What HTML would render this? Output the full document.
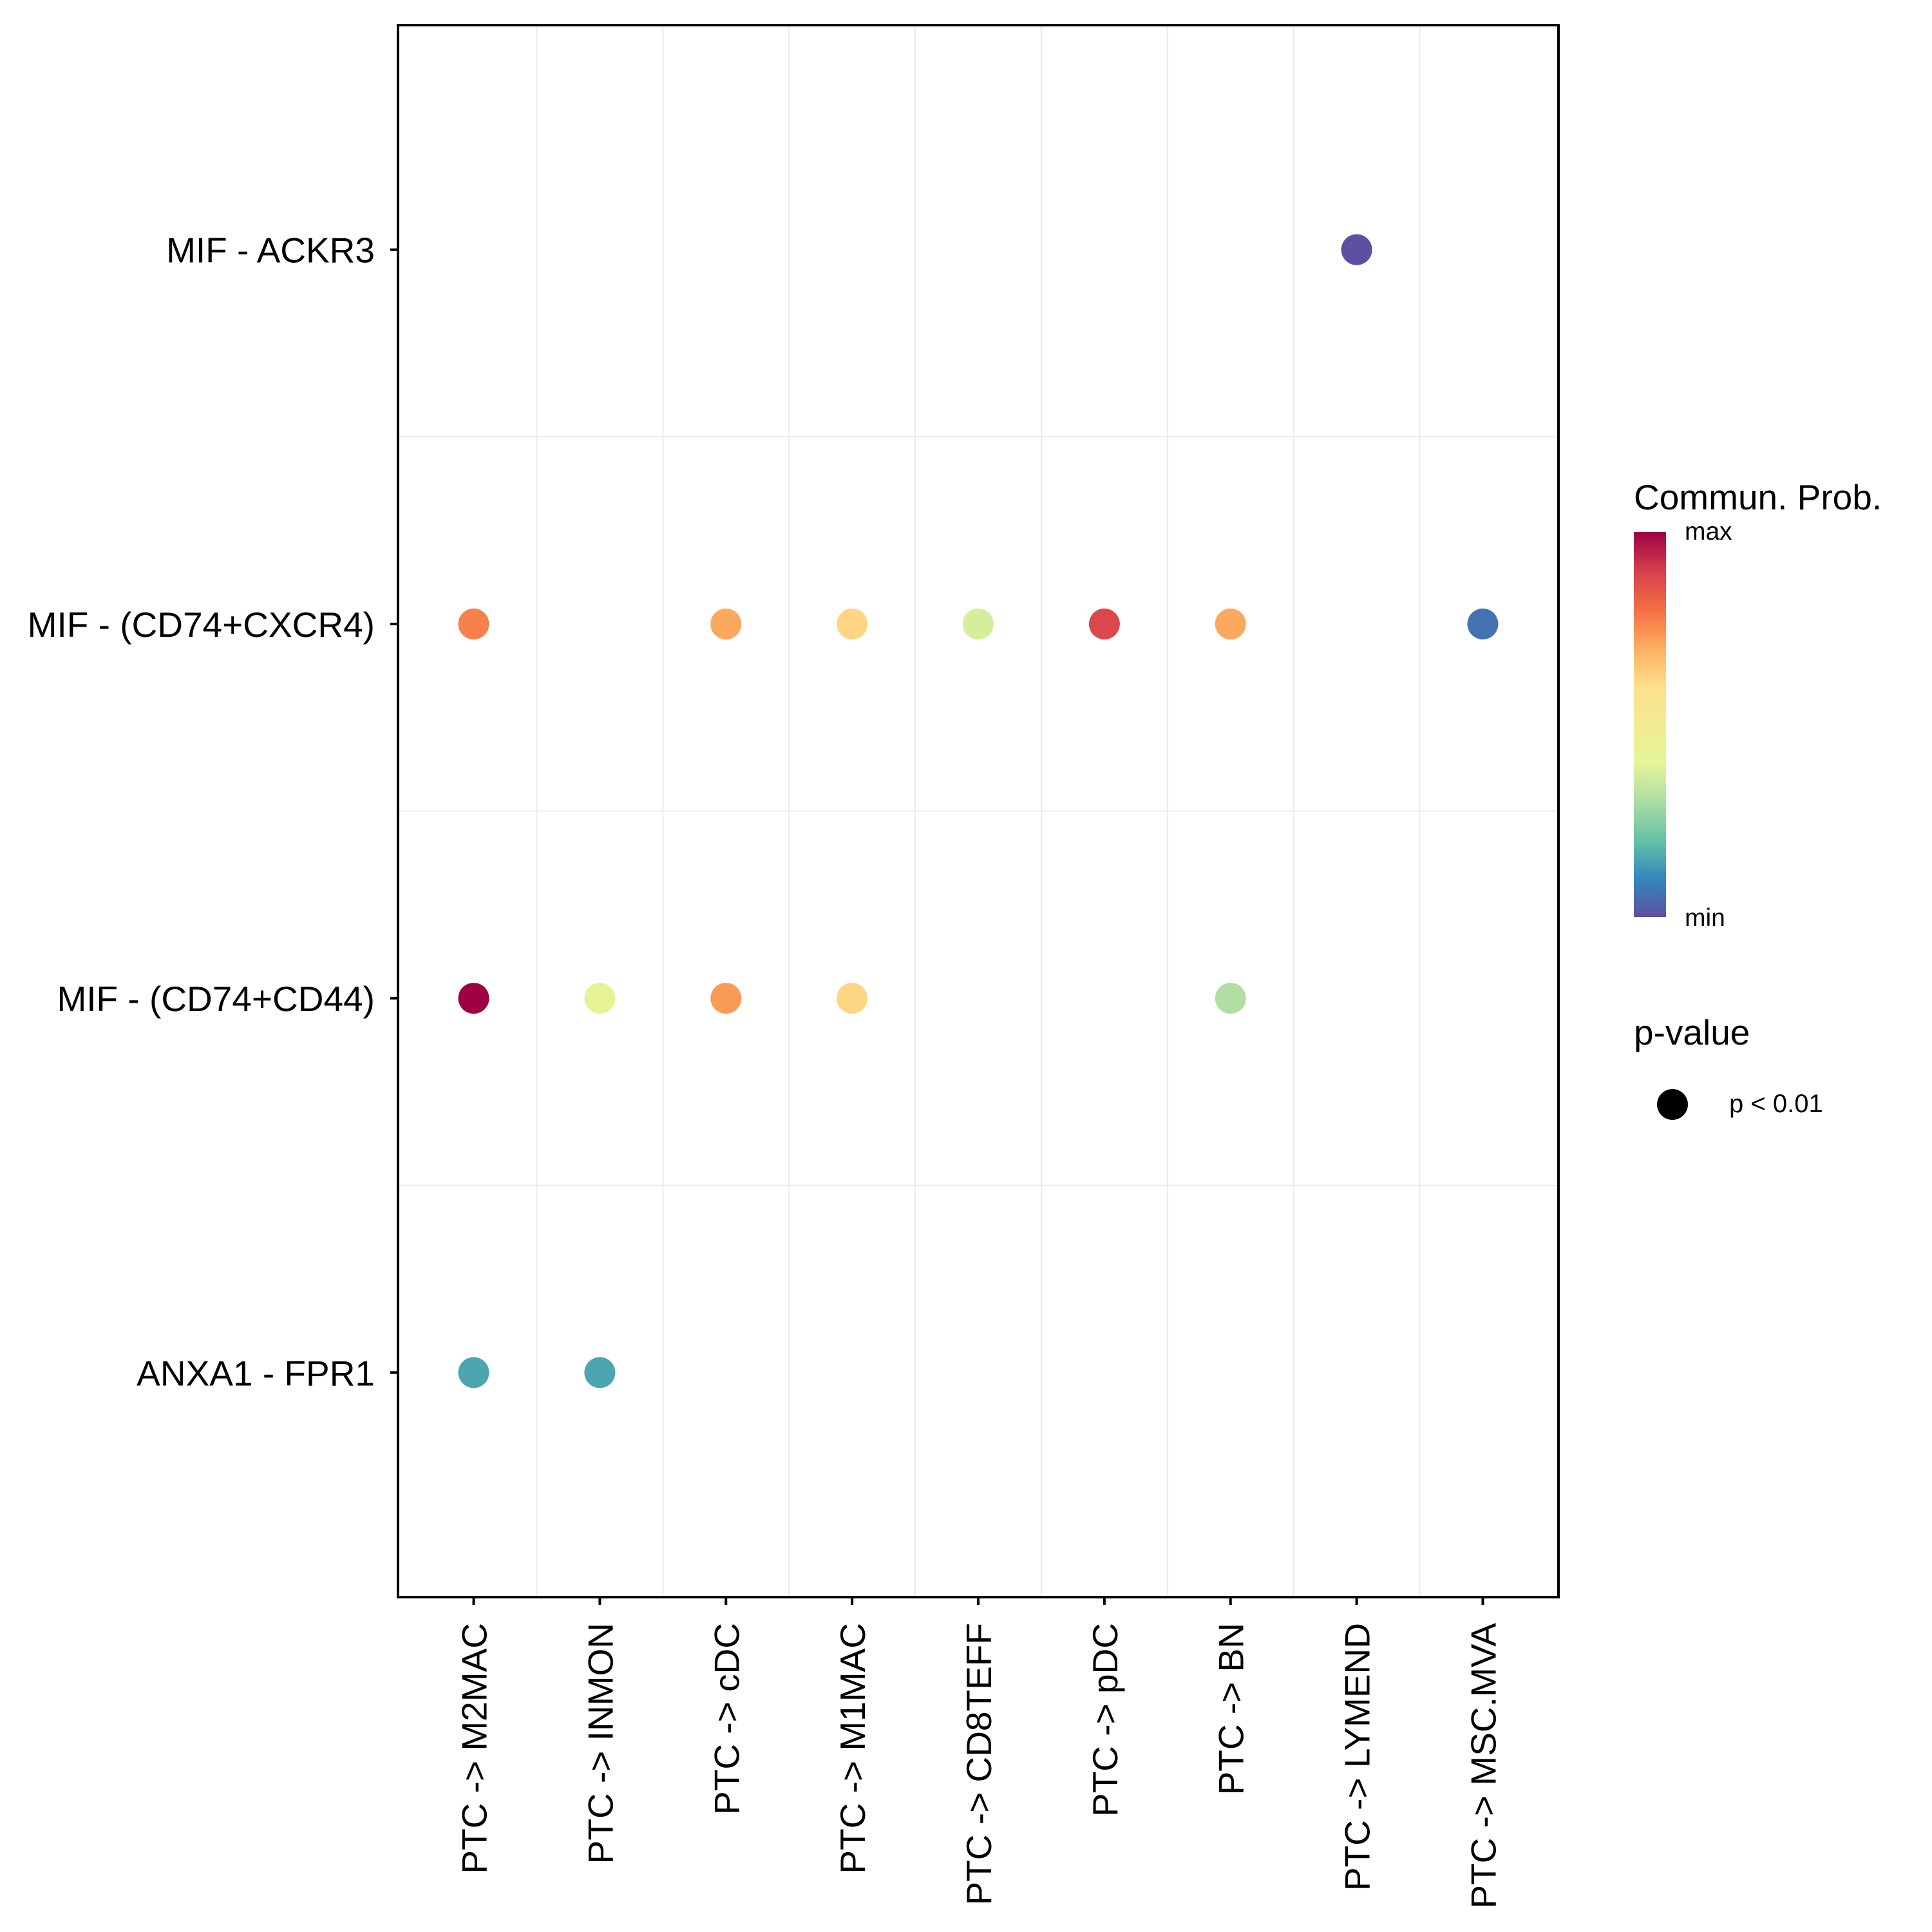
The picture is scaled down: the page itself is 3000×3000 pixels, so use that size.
<!DOCTYPE html>
<html><head><meta charset="utf-8"><style>
html,body{margin:0;padding:0;background:#fff}
svg{display:block;font-family:"Liberation Sans",sans-serif}
</style></head><body>
<svg id="chart" width="3000" height="3000" viewBox="0 0 3000 3000">
<defs>
<linearGradient id="spec" x1="0" y1="1" x2="0" y2="0">
<stop offset="0" stop-color="#5e4fa2"/><stop offset="0.1" stop-color="#3288bd"/><stop offset="0.2" stop-color="#66c2a5"/><stop offset="0.3" stop-color="#abdda4"/><stop offset="0.4" stop-color="#e6f598"/><stop offset="0.6" stop-color="#fee08b"/><stop offset="0.7" stop-color="#fdae61"/><stop offset="0.8" stop-color="#f46d43"/><stop offset="0.9" stop-color="#d53e4f"/><stop offset="1" stop-color="#9e0142"/>
</linearGradient>
</defs>
<g id="grid"></g>
<g id="points"></g>
<rect x="618" y="39" width="1802" height="2441" fill="none" stroke="#000" stroke-width="4"/>
<g id="axes"></g>
<g>
<text x="2537" y="791" font-size="55">Commun. Prob.</text>
<rect x="2537" y="826" width="50" height="598" fill="url(#spec)"/>
<text x="2616" y="838" font-size="39">max</text>
<text x="2616" y="1438" font-size="39">min</text>
</g>
<g>
<text x="2537" y="1622" font-size="55">p-value</text>
<circle cx="2597" cy="1715" r="24" fill="#000"/>
<text x="2685" y="1727" font-size="40">p &lt; 0.01</text>
</g>
</svg>
<script>
const xCategories = ["PTC -> M2MAC","PTC -> INMON","PTC -> cDC","PTC -> M1MAC","PTC -> CD8TEFF","PTC -> pDC","PTC -> BN","PTC -> LYMEND","PTC -> MSC.MVA"];
const yCategories = ["MIF - ACKR3","MIF - (CD74+CXCR4)","MIF - (CD74+CD44)","ANXA1 - FPR1"];
const pointX = ["PTC -> LYMEND","PTC -> M2MAC","PTC -> cDC","PTC -> M1MAC","PTC -> CD8TEFF","PTC -> pDC","PTC -> BN","PTC -> MSC.MVA","PTC -> M2MAC","PTC -> INMON","PTC -> cDC","PTC -> M1MAC","PTC -> BN","PTC -> M2MAC","PTC -> INMON"];
const pointY = ["MIF - ACKR3","MIF - (CD74+CXCR4)","MIF - (CD74+CXCR4)","MIF - (CD74+CXCR4)","MIF - (CD74+CXCR4)","MIF - (CD74+CXCR4)","MIF - (CD74+CXCR4)","MIF - (CD74+CXCR4)","MIF - (CD74+CD44)","MIF - (CD74+CD44)","MIF - (CD74+CD44)","MIF - (CD74+CD44)","MIF - (CD74+CD44)","ANXA1 - FPR1","ANXA1 - FPR1"];
const probValues = [0.0,0.77,0.71,0.62,0.37,0.88,0.71,0.06,1.0,0.42,0.73,0.62,0.31,0.15,0.15];

const NS="http://www.w3.org/2000/svg";
const L=618,T=39,W=1802,H=2441;
const ux=W/(xCategories.length-1+1.2), uy=H/(yCategories.length-1+1.2);
function xPos(c){return L+(0.6+xCategories.indexOf(c))*ux;}
function yPos(c){return T+(0.6+yCategories.indexOf(c))*uy;}
const stopPos=[0,0.1,0.2,0.3,0.4,0.6,0.7,0.8,0.9,1];
const stops=["#5e4fa2","#3288bd","#66c2a5","#abdda4","#e6f598","#fee08b","#fdae61","#f46d43","#d53e4f","#9e0142"];
function hex(h){return [1,3,5].map(i=>parseInt(h.substr(i,2),16));}
function colorScale(v){v=Math.max(0,Math.min(1,v));let i=0;while(i<stopPos.length-2&&v>stopPos[i+1])i++;const f=(v-stopPos[i])/(stopPos[i+1]-stopPos[i]);const a=hex(stops[i]),b=hex(stops[i+1]);return "rgb("+a.map((x,k)=>Math.round(x+(b[k]-x)*f)).join(",")+")";}
function mk(t,a,p){const e=document.createElementNS(NS,t);for(const k in a)e.setAttribute(k,a[k]);p.appendChild(e);return e;}
const grid=document.getElementById('grid'),axes=document.getElementById('axes'),pts=document.getElementById('points');
for(let i=0;i<xCategories.length-1;i++){const x=(xPos(xCategories[i])+xPos(xCategories[i+1]))/2;
const g=mk('line',{x1:x,x2:x,y1:T,y2:T+H,stroke:'#ebebeb','stroke-width':2},grid);

}
for(let i=0;i<yCategories.length-1;i++){const y=(yPos(yCategories[i])+yPos(yCategories[i+1]))/2;
const g=mk('line',{x1:L,x2:L+W,y1:y,y2:y,stroke:'#ebebeb','stroke-width':2},grid);

}
xCategories.forEach(c=>{const x=xPos(c);
const t=mk('line',{x1:x,x2:x,y1:T+H,y2:T+H+12,stroke:'#000','stroke-width':4},axes);


const tx=mk('text',{x:0,y:0,'font-size':55,'text-anchor':'end',transform:`translate(${x+20},${T+H+40}) rotate(-90)`},axes);
tx.textContent=c;

});
yCategories.forEach(c=>{const y=yPos(c);
const t=mk('line',{x1:L-12,x2:L,y1:y,y2:y,stroke:'#000','stroke-width':4},axes);


const tx=mk('text',{x:L-36,y:y+20,'font-size':55,'text-anchor':'end'},axes);
tx.textContent=c;

});
probValues.forEach((v,i)=>{
const c=mk('circle',{cx:xPos(pointX[i]),cy:yPos(pointY[i]),r:24,fill:colorScale(v)},pts);

});
</script>
</body></html>
